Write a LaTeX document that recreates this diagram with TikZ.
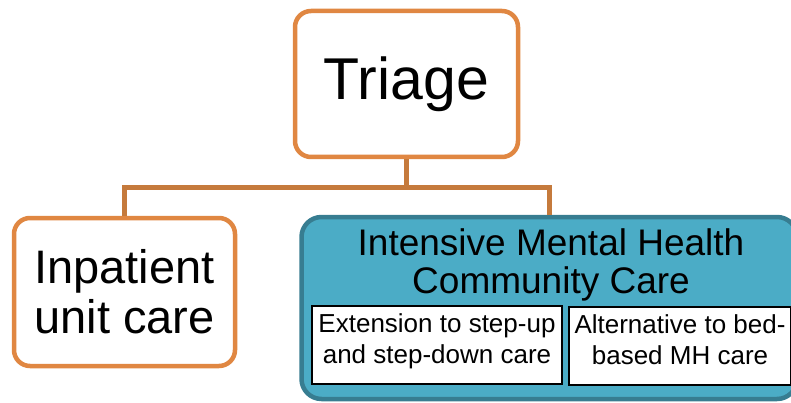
\documentclass[tikz,border=0pt]{standalone}
\usepackage{fontspec}
\setmainfont{Liberation Sans}
\definecolor{boxorange}{RGB}{224,135,66}
\definecolor{linkorange}{RGB}{197,122,60}
\definecolor{tealfill}{RGB}{75,172,198}
\definecolor{tealline}{RGB}{55,125,145}
\begin{document}
\begin{tikzpicture}[x=1pt,y=-1pt,
  orangebox/.style={draw=boxorange, line width=4.5pt, fill=white, rounded corners=16pt, inner sep=0pt, align=center},
  tealbox/.style={draw=tealline, line width=4.5pt, fill=tealfill, rounded corners=20pt, inner sep=0pt},
  innerbox/.style={draw=black, line width=1.2pt, fill=white, inner sep=0pt},
  innertext/.style={inner sep=0pt, align=center, font=\fontsize{26}{31}\selectfont},
  link/.style={draw=linkorange, line width=5pt, line join=miter}]
\useasboundingbox (0,0) rectangle (791,403);
\clip (0,0) rectangle (791,403);
% boxes
\node[orangebox, minimum width=223pt, minimum height=146pt, font=\fontsize{59}{63}\selectfont] (triage) at (406.5,84) {Triage};
\node[orangebox, minimum width=221pt, minimum height=148pt, font=\fontsize{47}{50}\selectfont] (inp) at (124.5,292) {Inpatient\\unit care};
\node[tealbox, minimum width=495.5pt, minimum height=182pt] (imh) at (549.25,308) {};
\node[inner sep=0pt, anchor=north, align=center, font=\fontsize{37}{38}\selectfont] (imhtitle) at (551,228) {Intensive Mental Health\\Community Care};
\node[innerbox, minimum width=250pt, minimum height=78pt] (ext) at (437,345) {};
\node[innerbox, minimum width=222pt, minimum height=78pt] (alt) at (680,346) {};
\node[innertext, anchor=north] (extt) at (ext.north |- 0,313) {Extension to step-up\\and step-down care};
\node[innertext, anchor=north] (altt) at (alt.north |- 0,314) {Alternative to bed-\\based MH care};
% connectors
\coordinate (bus) at (406.5,188);
\draw[link] (triage.south) -- (bus);
\draw[link] (inp.north) |- (bus) -| (imh.north);
\end{tikzpicture}
\end{document}
